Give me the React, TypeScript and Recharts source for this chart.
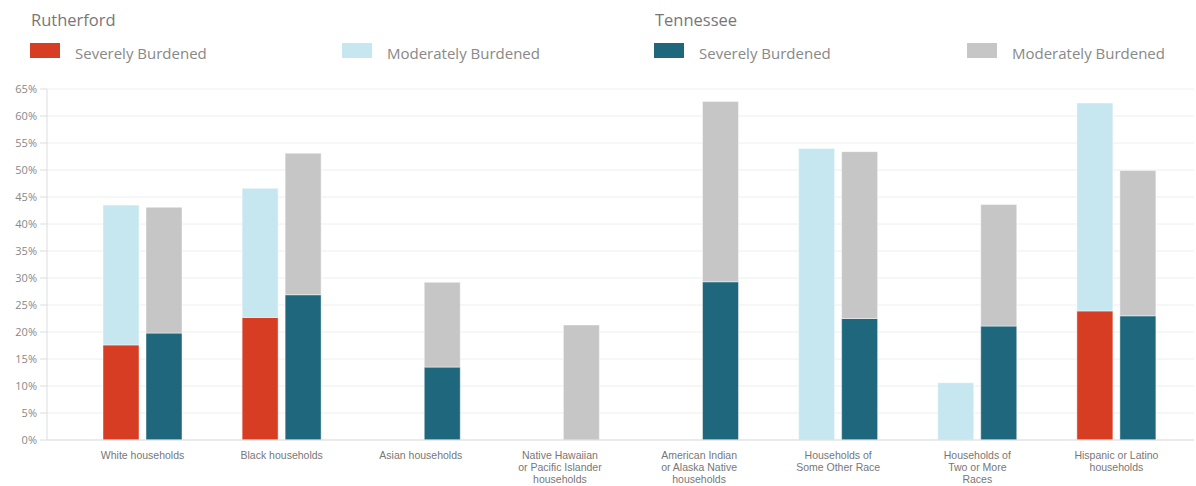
import { BarChart, Bar, XAxis, YAxis, CartesianGrid } from "recharts";

const categories = [
  "White households",
  "Black households",
  "Asian households",
  "Native Hawaiian\nor Pacific Islander\nhouseholds",
  "American Indian\nor Alaska Native\nhouseholds",
  "Households of\nSome Other Race",
  "Households of\nTwo or More\nRaces",
  "Hispanic or Latino\nhouseholds",
];

const rutherfordSevere = [17.6, 22.7, 0, 0, 0, 0, 0, 23.9];
const rutherfordModerate = [25.9, 23.9, 0, 0, 0, 54.0, 10.6, 38.5];
const tennesseeSevere = [19.8, 26.9, 13.5, 0, 29.3, 22.5, 21.1, 23.0];
const tennesseeModerate = [23.3, 26.2, 15.7, 21.3, 33.4, 30.9, 22.5, 26.9];

const yTicks = [0, 5, 10, 15, 20, 25, 30, 35, 40, 45, 50, 55, 60, 65];

const RED = "#d63d22";
const LIGHT_BLUE = "#c6e7f0";
const TEAL = "#1e677c";
const GRAY = "#c6c6c6";
const FONT = "'Open Sans', sans-serif";
const TICK_FONT = "'Liberation Sans', Arial, sans-serif";

const chartData = categories.map((name, i) => ({
  name,
  rSevere: rutherfordSevere[i],
  rModerate: rutherfordModerate[i],
  tSevere: tennesseeSevere[i],
  tModerate: tennesseeModerate[i],
}));

// multi-line category labels, split on \n
function CategoryTick({ x, y, payload }: any) {
  const lines = String(payload.value).split("\n");
  return (
    <text x={x} y={y} textAnchor="middle" fill="#777" fontSize={10.5} fontFamily={TICK_FONT}>
      {lines.map((line, i) => (
        <tspan key={i} x={x} dy={i === 0 ? 11 : 12}>
          {line}
        </tspan>
      ))}
    </text>
  );
}

function LegendItem({ color, label, left }: { color: string; label: string; left: number }) {
  return (
    <>
      <div style={{ position: "absolute", left, top: 43, width: 30, height: 15, background: color }} />
      <div
        style={{
          position: "absolute",
          left: left + 45,
          top: 44,
          fontSize: 15,
          color: "#888",
          fontFamily: FONT,
          lineHeight: "18px",
          whiteSpace: "nowrap",
        }}
      >
        {label}
      </div>
    </>
  );
}

const titleStyle = {
  position: "absolute" as const,
  top: 9,
  fontSize: 16.5,
  color: "#777",
  fontFamily: FONT,
  lineHeight: "22px",
};

export default function App() {
  return (
    <div style={{ position: "absolute", top: 0, left: 0, width: 1196, height: 486, background: "#fff" }}>
      <div style={{ ...titleStyle, left: 31 }}>Rutherford</div>
      <div style={{ ...titleStyle, left: 655 }}>Tennessee</div>
      <LegendItem color={RED} label="Severely Burdened" left={30} />
      <LegendItem color={LIGHT_BLUE} label="Moderately Burdened" left={342} />
      <LegendItem color={TEAL} label="Severely Burdened" left={654} />
      <LegendItem color={GRAY} label="Moderately Burdened" left={967} />
      <div style={{ position: "absolute", top: 0, left: 0 }}>
        <BarChart
          width={1196}
          height={486}
          data={chartData}
          margin={{ top: 89, right: 2, bottom: 0, left: 0 }}
          barSize={36}
          barGap={7}
        >
          <CartesianGrid vertical={false} stroke="#eeeeee" />
          <XAxis
            dataKey="name"
            height={46}
            interval={0}
            padding={{ left: 26, right: 8 }}
            axisLine={{ stroke: "#dddddd" }}
            tickLine={false}
            tick={<CategoryTick />}
          />
          <YAxis
            width={47}
            domain={[0, 65]}
            ticks={yTicks}
            interval={0}
            tickFormatter={(v: number) => `${v}%`}
            axisLine={{ stroke: "#dddddd" }}
            tickLine={{ stroke: "#dddddd" }}
            tickSize={7}
            tickMargin={3}
            tick={{ fontSize: 11, fill: "#888", fontFamily: FONT }}
          />
          <Bar dataKey="rSevere" stackId="r" fill={RED} stroke="rgba(255,255,255,0.45)" isAnimationActive={false} />
          <Bar dataKey="rModerate" stackId="r" fill={LIGHT_BLUE} stroke="rgba(255,255,255,0.45)" isAnimationActive={false} />
          <Bar dataKey="tSevere" stackId="t" fill={TEAL} stroke="rgba(255,255,255,0.45)" isAnimationActive={false} />
          <Bar dataKey="tModerate" stackId="t" fill={GRAY} stroke="rgba(255,255,255,0.45)" isAnimationActive={false} />
        </BarChart>
      </div>
    </div>
  );
}
